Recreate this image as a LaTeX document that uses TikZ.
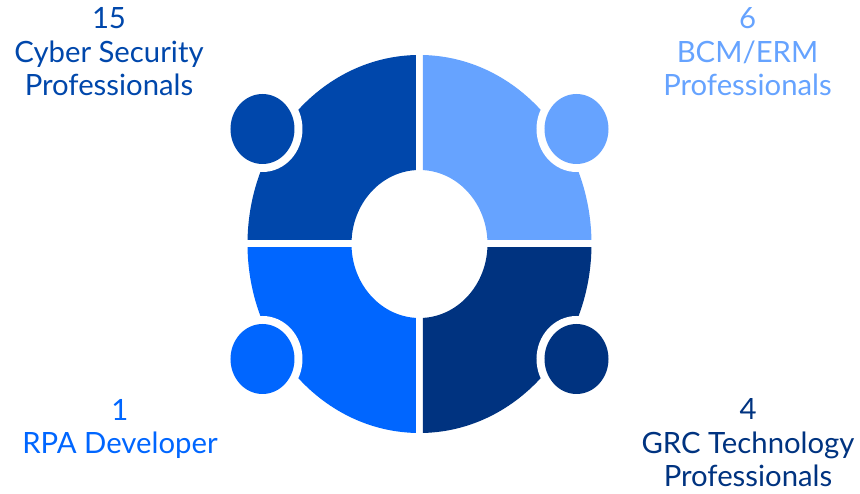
\documentclass[tikz,border=0pt]{standalone}
\usepackage{fontspec}
\setmainfont{Lato}

\definecolor{cyberblue}{HTML}{0047AB}
\definecolor{bcmblue}{HTML}{66A3FF}
\definecolor{rpablue}{HTML}{0066FF}
\definecolor{grcblue}{HTML}{003380}

\begin{document}
\begin{tikzpicture}[x=1pt,y=1pt,
    teamlabel/.style={align=center, anchor=base, inner sep=0pt,
        font=\fontsize{29.3}{33.7}\selectfont}]

    \useasboundingbox (-419.5,-250) rectangle (440.5,244);

    % quarters of the ring, with a head beside each
    \foreach \sx/\sy/\col in {-1/1/cyberblue, 1/1/bcmblue, -1/-1/rpablue, 1/-1/grcblue} {
        \begin{scope}
            \clip (3.5*\sx,4*\sy) rectangle (200*\sx,200*\sy);
            \fill [\col, even odd rule] (0,0) ellipse [x radius=172, y radius=189]
                (0,0) ellipse [x radius=68, y radius=74];
        \end{scope}
        \fill [white] (157*\sx,115*\sy) ellipse [x radius=40, y radius=43];
        \fill [\col] (157*\sx,115*\sy) ellipse [x radius=32, y radius=35];
    }

    % counts (anchored at the last line)
    \node [teamlabel, text=cyberblue] (cyber) at (-310.5,148) {15\\Cyber Security\\Professionals};
    \node [teamlabel, text=bcmblue] (bcm) at (328,148) {6\\BCM/ERM\\Professionals};
    \node [teamlabel, text=rpablue] (rpa) at (-299.5,-210) {1\\RPA Developer};
    \node [teamlabel, text=grcblue] (grc) at (328.5,-243) {4\\GRC Technology\\Professionals};

\end{tikzpicture}
\end{document}
